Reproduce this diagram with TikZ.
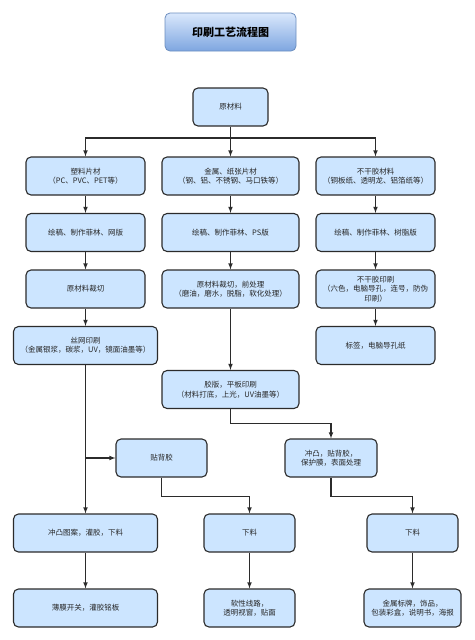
\documentclass[tikz,border=0pt]{standalone}
\usepackage{fontspec}
\newfontfamily\cjk{Noto Sans CJK SC}
\usepackage{tikz}
\usetikzlibrary{positioning, arrows}

\definecolor{boxfill}{HTML}{CCE5FF}
\definecolor{boxline}{HTML}{2B2B2B}
\definecolor{titletop}{HTML}{DAE8FC}
\definecolor{titlebot}{HTML}{7EA6E0}
\definecolor{titleline}{HTML}{6C8EBF}

\begin{document}
\begin{tikzpicture}[x=1pt, y=1pt, on grid,
    box/.style={draw=boxline, line width=1.1pt, fill=boxfill, rounded
      corners=5pt, minimum height=38pt, inner sep=1pt, align=center,
      font=\cjk\fontsize{7.5}{9.5}\selectfont, text=black!85},
    flow/.style={-latex, line width=1.1pt, draw=boxline}]
      \useasboundingbox (0,0) rectangle (474,-640);%

      % Title
      \node [draw=titleline, line width=0.8pt, rounded corners=5pt, top
      color=titletop, bottom color=titlebot, minimum width=131pt, minimum
      height=38pt, font=\cjk\bfseries\fontsize{11}{13}\selectfont] (TITLE)
      at (230.5,-32) {印刷工艺流程图};%

      % Raw material
      \node [box, minimum width=75pt] (RAW) at (230.5,-107) {原材料};%
      \coordinate [below=31pt of RAW] (SPLIT);%

      % -- Plastic
      \node [box, minimum width=119pt] (PLA) at (85.5,-176)
      {塑料片材\\（PC、PVC、PET等）};%
      \node [box, minimum width=119pt, below=56.5pt of PLA] (PLA2)
      {绘稿、制作菲林、网版};%
      \node [box, minimum width=119pt, below=56.5pt of PLA2] (PLA3)
      {原材料裁切};%
      \node [box, minimum width=144pt, below=56.5pt of PLA3] (SILK)
      {丝网印刷\\（金属银浆，碳浆，UV，镜面油墨等）};%

      % -- Metal, paper
      \node [box, minimum width=137pt] (MET) at (230.5,-176)
      {金属、纸张片材\\（钢、铝、不锈钢、马口铁等）};%
      \node [box, minimum width=137pt, below=56.5pt of MET] (MET2)
      {绘稿、制作菲林、PS版};%
      \node [box, minimum width=137pt, below=56.5pt of MET2] (MET3)
      {原材料裁切，前处理\\（磨油，磨水，脱脂，软化处理）};%
      \node [box, minimum width=137pt, below=100.5pt of MET3] (OFF)
      {胶版，平板印刷\\（材料打底，上光，UV油墨等）};%

      % -- Adhesive
      \node [box, minimum width=119pt] (ADH) at (375.5,-176)
      {不干胶材料\\（铜板纸、透明龙、铝箔纸等）};%
      \node [box, minimum width=119pt, below=56.5pt of ADH] (ADH2)
      {绘稿、制作菲林、树脂版};%
      \node [box, minimum width=119pt, below=56.5pt of ADH2] (ADH3)
      {不干胶印刷\\（六色，电脑导孔，连号，防伪\\印刷）};%
      \node [box, minimum width=119pt, below=56.5pt of ADH3] (LABEL)
      {标签，电脑导孔纸};%

      % Finishing
      \node [box, minimum width=91pt] (BACK) at (161.5,-458) {贴背胶};%
      \node [box, minimum width=92pt] (EMB) at (331,-458)
      {冲凸，贴背胶，\\保护膜，表面处理};%
      \node [box, minimum width=144pt] (CUT) at (85.5,-533)
      {冲凸图案，灌胶，下料};%
      \node [box, minimum width=91pt] (CUTB) at (249.5,-533) {下料};%
      \node [box, minimum width=91pt] (CUTC) at (412.5,-533) {下料};%

      % Products
      \node [box, minimum width=144pt, below=75pt of CUT] (PRA)
      {薄膜开关，灌胶铭板};%
      \node [box, minimum width=91pt, below=75pt of CUTB] (PRB)
      {软性线路，\\透明视窗，贴面};%
      \node [box, minimum width=97pt, below=75pt of CUTC] (PRC)
      {金属标牌，饰品，\\包装彩盒，说明书，海报};%

      % arrows
      \draw [flow] (RAW.south) -- (MET.north);%
      \draw [flow] (SPLIT) -| (PLA.north);%
      \draw [flow] (SPLIT) -| (ADH.north);%
      \draw [flow] (PLA) -- (PLA2);%
      \draw [flow] (PLA2) -- (PLA3);%
      \draw [flow] (PLA3) -- (SILK);%
      \draw [flow] (MET) -- (MET2);%
      \draw [flow] (MET2) -- (MET3);%
      \draw [flow] (MET3) -- (OFF);%
      \draw [flow] (ADH) -- (ADH2);%
      \draw [flow] (ADH2) -- (ADH3);%
      \draw [flow] (ADH3) -- (LABEL);%
      \draw [flow] (SILK.south) -- (CUT.north);%
      \coordinate (BR) at (SILK.south |- BACK.west);%
      \draw [flow] (BR) -- (BACK.west);%
      \draw [flow] (OFF.south) -- ++(0,-14) -| (EMB.north);%
      \draw [flow] (BACK.south) -- ++(0,-19) -| (CUTB.north);%
      \draw [flow] (EMB.south) -- ++(0,-19) -| (CUTC.north);%
      \draw [flow] (CUT) -- (PRA);%
      \draw [flow] (CUTB) -- (PRB);%
      \draw [flow] (CUTC) -- (PRC);%
    \end{tikzpicture}
\end{document}
